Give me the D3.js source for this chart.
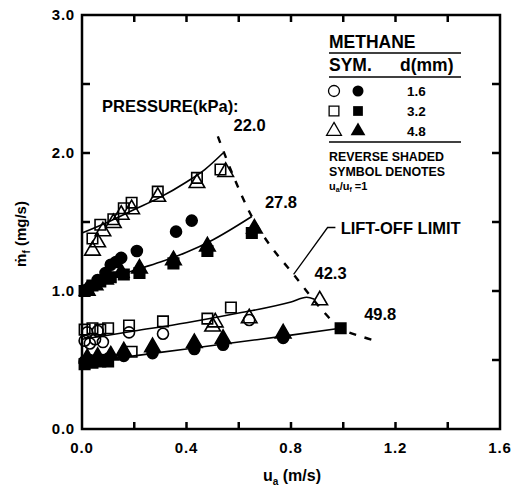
<!DOCTYPE html>
<html>
<head>
<meta charset="utf-8">
<script src="https://d3js.org/d3.v7.min.js"></script>
<style>
  body { margin: 0; background: #fff; }
  text { font-family: "Liberation Sans", Arial, sans-serif; font-weight: bold; fill: #000; }
  .curve { fill: none; stroke: #000; stroke-width: 1.6px; }
  .limit { fill: none; stroke: #000; stroke-width: 2.4px; stroke-dasharray: 7,9; }
</style>
</head>
<body>
<svg id="chart" width="513" height="491"></svg>
<script>
// axis ticks
var xTicks = [0.0, 0.4, 0.8, 1.2, 1.6];
var yTicks = [0.0, 1.0, 2.0, 3.0];

// fitted curves, one per pressure (kPa)
var pressures = ["22.0", "27.8", "42.3", "49.8"];
var curve22 = [[0, 1.42], [0.1, 1.50], [0.2, 1.59], [0.3, 1.68], [0.4, 1.79], [0.47, 1.88], [0.54, 2.0]];
var curve27 = [[0, 1.04], [0.1, 1.09], [0.2, 1.15], [0.3, 1.21], [0.4, 1.28], [0.5, 1.37], [0.65, 1.54]];
var curve42 = [[0, 0.65], [0.2, 0.71], [0.4, 0.77], [0.6, 0.84], [0.8, 0.92], [0.86, 0.955], [0.89, 0.94]];
var curve49 = [[0, 0.48], [0.2, 0.53], [0.4, 0.58], [0.6, 0.63], [0.8, 0.68], [0.99, 0.73]];

// lift-off limit (dashed)
var liftoff = [[0.52, 2.12], [0.58, 1.83], [0.65, 1.54], [0.72, 1.33], [0.81, 1.12], [0.92, 0.86], [0.99, 0.73], [1.07, 0.67], [1.14, 0.63]];

// measured points: o = open, f = filled ; c circle (1.6mm), s square (3.2mm), t triangle (4.8mm)
var os22 = [[0.04, 1.38], [0.07, 1.48], [0.12, 1.52], [0.16, 1.60], [0.19, 1.64], [0.29, 1.72], [0.44, 1.82], [0.53, 1.88]];
var ot22 = [[0.04, 1.30], [0.06, 1.36], [0.08, 1.44], [0.12, 1.50], [0.15, 1.56], [0.19, 1.60], [0.29, 1.69], [0.44, 1.79], [0.55, 1.87]];

var fc27 = [[0.03, 1.03], [0.06, 1.08], [0.09, 1.13], [0.11, 1.19], [0.13, 1.21], [0.15, 1.24], [0.21, 1.29], [0.36, 1.43], [0.42, 1.51]];
var fs27 = [[0.01, 1.00], [0.04, 1.04], [0.07, 1.07], [0.11, 1.10], [0.16, 1.12], [0.22, 1.13], [0.35, 1.20], [0.48, 1.29], [0.65, 1.42]];
var ft27 = [[0.02, 1.01], [0.05, 1.05], [0.09, 1.09], [0.15, 1.14], [0.22, 1.17], [0.35, 1.23], [0.48, 1.33], [0.66, 1.46]];

var oc42 = [[0.01, 0.64], [0.03, 0.62], [0.05, 0.65], [0.08, 0.63], [0.02, 0.70], [0.06, 0.71], [0.18, 0.70], [0.31, 0.69], [0.64, 0.79]];
var os42 = [[0.01, 0.72], [0.04, 0.73], [0.07, 0.72], [0.10, 0.73], [0.18, 0.75], [0.31, 0.78], [0.48, 0.80], [0.57, 0.88]];
var ot42 = [[0.50, 0.75], [0.51, 0.78], [0.64, 0.81], [0.91, 0.94]];

var fc49 = [[0.01, 0.49], [0.03, 0.50], [0.05, 0.49], [0.08, 0.50], [0.10, 0.51], [0.16, 0.53], [0.27, 0.55], [0.43, 0.58], [0.54, 0.61], [0.77, 0.66]];
var ft49 = [[0.02, 0.52], [0.06, 0.53], [0.11, 0.54], [0.16, 0.57], [0.27, 0.60], [0.43, 0.63], [0.54, 0.66], [0.77, 0.70]];
var fs49 = [[0.01, 0.47], [0.04, 0.48], [0.07, 0.49], [0.10, 0.49], [0.99, 0.73]];
var os49 = [[0.19, 0.56]];

// legend rows
var legendRows = ["1.6", "3.2", "4.8"];
var legendShapes = ["c", "s", "t"];

var svg = d3.select("#chart");
var x = d3.scaleLinear().domain([0, 1.6]).range([82, 500]);
var y = d3.scaleLinear().domain([0, 3]).range([429, 15]);

// frame with inward ticks
var g = svg.append("g");
g.append("rect").attr("x", 82).attr("y", 15).attr("width", 418).attr("height", 414)
  .attr("fill", "none").attr("stroke", "#000").attr("stroke-width", 2.5);

var xt = d3.range(0.2, 1.6, 0.2);
var yt = d3.range(0.5, 3.0, 0.5);
g.selectAll(".xtb").data(xt).enter().append("line")
  .attr("x1", d => x(d)).attr("x2", d => x(d)).attr("y1", 429).attr("y2", 422)
  .attr("stroke", "#000").attr("stroke-width", 2.5);
g.selectAll(".xtt").data(xt).enter().append("line")
  .attr("x1", d => x(d)).attr("x2", d => x(d)).attr("y1", 15).attr("y2", 22)
  .attr("stroke", "#000").attr("stroke-width", 2.5);
g.selectAll(".ytl").data(yt).enter().append("line")
  .attr("x1", 82).attr("x2", 90).attr("y1", d => y(d)).attr("y2", d => y(d))
  .attr("stroke", "#000").attr("stroke-width", 2.5);
g.selectAll(".ytr").data(yt).enter().append("line")
  .attr("x1", 500).attr("x2", 492).attr("y1", d => y(d)).attr("y2", d => y(d))
  .attr("stroke", "#000").attr("stroke-width", 2.5);

g.selectAll(".xl").data(xTicks).enter().append("text")
  .attr("x", d => x(d)).attr("y", 453).attr("text-anchor", "middle")
  .attr("font-size", 15).attr("letter-spacing", 0.8).text(d => d.toFixed(1));
g.selectAll(".yl").data(yTicks).enter().append("text")
  .attr("x", 75).attr("y", d => y(d) + 5).attr("text-anchor", "end")
  .attr("font-size", 15).attr("letter-spacing", 0.8).text(d => d.toFixed(1));

// axis titles
var xlab = svg.append("text").attr("x", 263).attr("y", 481).attr("font-size", 16);
xlab.append("tspan").text("u");
xlab.append("tspan").attr("font-size", 10).attr("dy", 4).text("a");
xlab.append("tspan").attr("dy", -4).text(" (m/s)");

var ylab = svg.append("text").attr("transform", "translate(26,234) rotate(-90)")
  .attr("text-anchor", "middle").attr("font-size", 15);
ylab.append("tspan").text("m\u0307");
ylab.append("tspan").attr("font-size", 10).attr("dy", 4).text("f");
ylab.append("tspan").attr("dy", -4).text(" (mg/s)");

// curves
var line = d3.line().x(d => x(d[0])).y(d => y(d[1])).curve(d3.curveMonotoneX);
[curve22, curve27, curve42, curve49].forEach(function(c) {
  svg.append("path").datum(c).attr("class", "curve").attr("d", line);
});
svg.append("path").datum(liftoff).attr("class", "limit")
  .attr("d", d3.line().x(d => x(d[0])).y(d => y(d[1])).curve(d3.curveCatmullRom));

// symbols
function sym(data, shape, filled) {
  var size = shape === "c" ? 95 : shape === "s" ? 110 : 105;
  var type = shape === "c" ? d3.symbolCircle : shape === "s" ? d3.symbolSquare : d3.symbolTriangle;
  svg.append("g").selectAll("path").data(data).enter().append("path")
    .attr("d", d3.symbol().type(type).size(size))
    .attr("transform", d => "translate(" + x(d[0]) + "," + (y(d[1]) + (shape === "t" ? 1 : 0)) + ")")
    .attr("fill", filled ? "#000" : "#fff").attr("fill-opacity", filled ? 1 : 0)
    .attr("stroke", "#000").attr("stroke-width", 1.6);
}
sym(os22, "s", false); sym(ot22, "t", false);
sym(fc27, "c", true); sym(fs27, "s", true); sym(ft27, "t", true);
sym(oc42, "c", false); sym(os42, "s", false); sym(ot42, "t", false);
sym(fc49, "c", true); sym(ft49, "t", true); sym(fs49, "s", true); sym(os49, "s", false);

// annotations
svg.append("text").attr("x", 102).attr("y", 112).attr("font-size", 16.5).text("PRESSURE(kPa):");
var labPos = [[0.58, 2.16], [0.70, 1.60], [0.89, 1.09], [1.08, 0.79]];
svg.selectAll(".plab").data(pressures).enter().append("text")
  .attr("x", (d, i) => x(labPos[i][0])).attr("y", (d, i) => y(labPos[i][1]))
  .attr("font-size", 16.5).text(d => d);

// lift-off limit leader and label
svg.append("path").datum([[0.81, 1.12], [0.94, 1.46], [0.97, 1.46]])
  .attr("fill", "none").attr("stroke", "#000").attr("stroke-width", 1.3)
  .attr("d", d3.line().x(d => x(d[0])).y(d => y(d[1])));
svg.append("text").attr("x", x(0.99)).attr("y", y(1.41)).attr("font-size", 16.5).text("LIFT-OFF LIMIT");

// legend
var lg = svg.append("g");
lg.append("text").attr("x", 329).attr("y", 48).attr("font-size", 17.5).text("METHANE");
lg.append("line").attr("x1", 329).attr("x2", 461).attr("y1", 53).attr("y2", 53).attr("stroke", "#000").attr("stroke-width", 1.5);
lg.append("text").attr("x", 329).attr("y", 71).attr("font-size", 17.5).text("SYM.");
lg.append("text").attr("x", 400).attr("y", 71).attr("font-size", 17.5).text("d(mm)");
lg.append("line").attr("x1", 329).attr("x2", 461).attr("y1", 77).attr("y2", 77).attr("stroke", "#000").attr("stroke-width", 1.5);
legendRows.forEach(function(r, i) {
  var yy = 91 + i * 20;
  var type = legendShapes[i] === "c" ? d3.symbolCircle : legendShapes[i] === "s" ? d3.symbolSquare : d3.symbolTriangle;
  lg.append("path").attr("d", d3.symbol().type(type).size(95)).attr("transform", "translate(334," + yy + ")")
    .attr("fill", "none").attr("stroke", "#000").attr("stroke-width", 1.3);
  lg.append("path").attr("d", d3.symbol().type(type).size(95)).attr("transform", "translate(358," + yy + ")")
    .attr("fill", "#000");
  lg.append("text").attr("x", 407).attr("y", yy + 5).attr("font-size", 13.5).text(r);
});
lg.append("line").attr("x1", 329).attr("x2", 461).attr("y1", 142).attr("y2", 142).attr("stroke", "#000").attr("stroke-width", 1.5);
lg.append("text").attr("x", 329).attr("y", 161).attr("font-size", 12.4).text("REVERSE SHADED");
lg.append("text").attr("x", 329).attr("y", 176).attr("font-size", 12.4).text("SYMBOL DENOTES");
var ratio = lg.append("text").attr("x", 329).attr("y", 190).attr("font-size", 11);
ratio.append("tspan").text("u");
ratio.append("tspan").attr("font-size", 7).attr("dy", 2).text("a");
ratio.append("tspan").attr("dy", -2).text("/u");
ratio.append("tspan").attr("font-size", 7).attr("dy", 2).text("f");
ratio.append("tspan").attr("dy", -2).text("  =1");
</script>
</body>
</html>
